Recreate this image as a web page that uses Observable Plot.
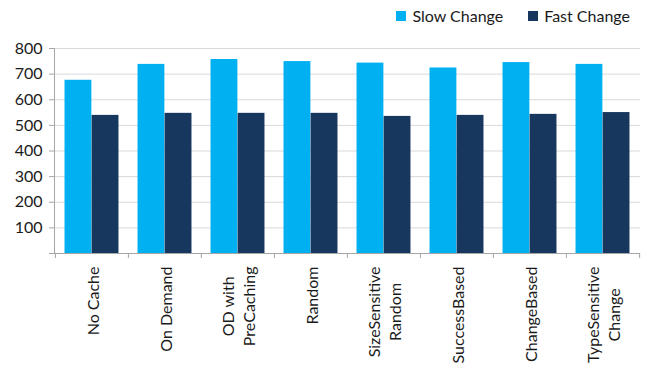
<!DOCTYPE html>
<html>
<head>
<meta charset="utf-8">
<script src="https://cdn.jsdelivr.net/npm/d3@7"></script>
<script src="https://cdn.jsdelivr.net/npm/@observablehq/plot@0.6"></script>
<style>
  html, body { margin: 0; padding: 0; background: #fff; }
  #chart { width: 647px; font-family: Lato, sans-serif; }
  .legend { height: 30px; display: flex; justify-content: flex-end; align-items: center;
            padding-right: 17px; padding-top: 1px; box-sizing: border-box; font-size: 16px; color: #1a1a1a; }
  .legend .item { display: flex; align-items: center; margin-left: 25px; }
  .legend .swatch { width: 10px; height: 10px; margin-right: 6px; }
</style>
</head>
<body>
<div id="chart"></div>
<script>
// Cache strategies compared under slow and fast change rates
const categories = ["No Cache", "On Demand", "OD with\nPreCaching", "Random", "SizeSensitive\nRandom", "SuccessBased", "ChangeBased", "TypeSensitive\nChange"];
const slowChange = [676, 738, 757, 749, 743, 724, 745, 738];
const fastChange = [539, 547, 547, 547, 535, 539, 543, 550];
const seriesNames = ["Slow Change", "Fast Change"];
const seriesColors = ["#00b0f0", "#17375e"];
const yTicks = [0, 100, 200, 300, 400, 500, 600, 700, 800];

const W = 647, H = 339;
const M = {top: 18, right: 7, bottom: 116, left: 54};
const step = (W - M.left - M.right) / categories.length;
const barW = step * 0.37;
const pad = (step - 2 * barW) / 2;

const slowRows = categories.map((c, i) => ({category: c, value: slowChange[i]}));
const fastRows = categories.map((c, i) => ({category: c, value: fastChange[i]}));

const axisColor = "#a6a6a6";

const chart = Plot.plot({
  width: W,
  height: H,
  marginTop: M.top,
  marginRight: M.right,
  marginBottom: M.bottom,
  marginLeft: M.left,
  style: {fontFamily: "Lato, sans-serif", fontSize: "16px", color: "#1a1a1a", background: "#fff"},
  x: {domain: categories, padding: 0},
  y: {domain: [0, 800]},
  marks: [
    Plot.ruleY(yTicks.filter(d => d > 0), {stroke: "#d9d9d9"}),
    Plot.barY(slowRows, {x: "category", y: "value", fill: seriesColors[0], insetLeft: pad, insetRight: pad + barW}),
    Plot.barY(fastRows, {x: "category", y: "value", fill: seriesColors[1], insetLeft: pad + barW, insetRight: pad}),
    Plot.frame({anchor: "left", stroke: axisColor}),
    Plot.ruleY([0], {stroke: axisColor}),
    // category separators below the baseline
    Plot.ruleX(categories, {x: d => d, dx: -step / 2, y1: 0, y2: 0, insetBottom: -5, stroke: axisColor}),
    Plot.ruleX(categories.slice(-1), {x: d => d, dx: step / 2, y1: 0, y2: 0, insetBottom: -5, stroke: axisColor}),
    Plot.axisY({ticks: yTicks, tickSize: 5, tickPadding: 7, stroke: axisColor, fill: "#1a1a1a",
                tickFormat: d => d === 0 ? "" : d, label: null}),
    Plot.axisX({tickRotate: -90, tickSize: 0, tickPadding: 13, lineHeight: 1.3, fill: "#1a1a1a", label: null})
  ]
});

const root = document.getElementById("chart");
const legend = document.createElement("div");
legend.className = "legend";
seriesNames.forEach((name, i) => {
  const item = document.createElement("div");
  item.className = "item";
  const sw = document.createElement("span");
  sw.className = "swatch";
  sw.style.background = seriesColors[i];
  const label = document.createElement("span");
  label.textContent = name;
  item.append(sw, label);
  legend.append(item);
});
root.append(legend, chart);

// center the lines of two-line category labels on each other
chart.querySelectorAll('[aria-label="x-axis tick label"] text').forEach(t => {
  const spans = t.querySelectorAll("tspan");
  if (spans.length < 2) return;
  const widths = [...spans].map(s => s.getComputedTextLength());
  const maxW = Math.max(...widths);
  spans.forEach((s, i) => s.setAttribute("x", -(maxW - widths[i]) / 2));
});
</script>
</body>
</html>
